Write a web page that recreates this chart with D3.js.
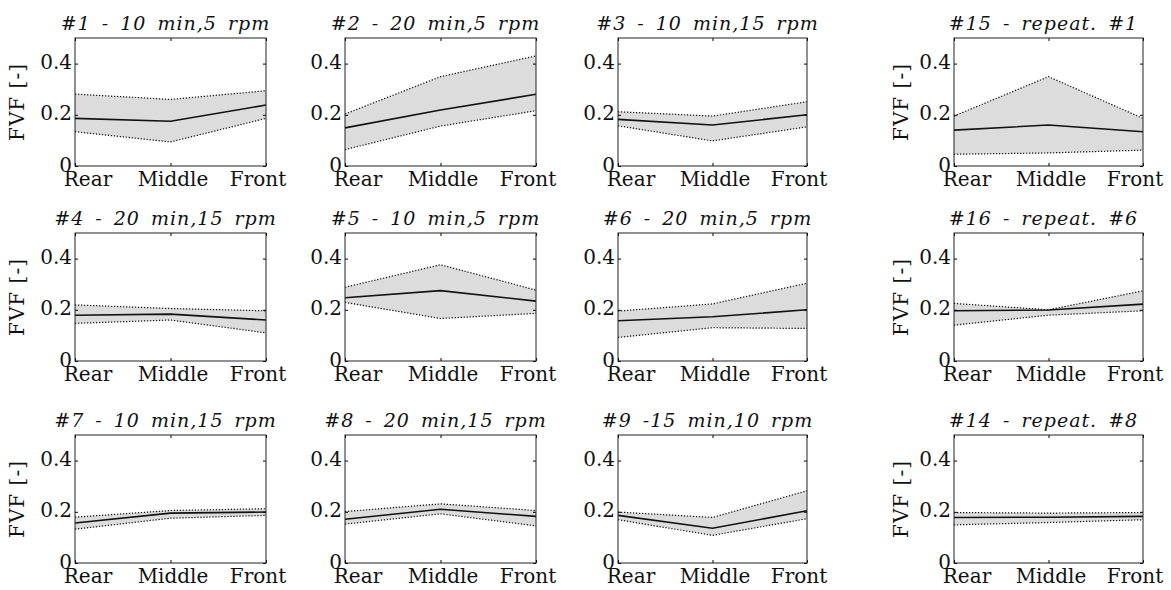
<!DOCTYPE html>
<html>
<head>
<meta charset="utf-8">
<script src="https://cdn.jsdelivr.net/npm/d3@7"></script>
<style>
    body { margin: 0; background: #fff; }
    svg text { font-family: "DejaVu Serif", "Liberation Serif", serif; fill: #111; }
</style>
</head>
<body>
<script>
/*global d3*/

// sample positions along the part
var positions = ["Rear", "Middle", "Front"];

// panel titles, row by row
var titles = [
    "#1 - 10 min,5 rpm", "#2 - 20 min,5 rpm", "#3 - 10 min,15 rpm", "#15 - repeat. #1",
    "#4 - 20 min,15 rpm", "#5 - 10 min,5 rpm", "#6 - 20 min,5 rpm", "#16 - repeat. #6",
    "#7 - 10 min,15 rpm", "#8 - 20 min,15 rpm", "#9 -15 min,10 rpm", "#14 - repeat. #8"
];

// mean FVF per panel (Rear, Middle, Front)
var meanValues = [
    [0.186, 0.175, 0.238], [0.149, 0.219, 0.280], [0.182, 0.160, 0.200], [0.140, 0.160, 0.134],
    [0.179, 0.183, 0.160], [0.247, 0.275, 0.234], [0.157, 0.173, 0.200], [0.196, 0.199, 0.222],
    [0.156, 0.195, 0.199], [0.171, 0.210, 0.182], [0.186, 0.136, 0.204], [0.178, 0.179, 0.182]
];

// upper bound of the band
var upperValues = [
    [0.281, 0.260, 0.294], [0.203, 0.349, 0.430], [0.212, 0.195, 0.251], [0.195, 0.349, 0.186],
    [0.219, 0.205, 0.196], [0.288, 0.376, 0.277], [0.195, 0.223, 0.304], [0.225, 0.200, 0.274],
    [0.179, 0.205, 0.212], [0.201, 0.231, 0.205], [0.199, 0.178, 0.282], [0.197, 0.195, 0.197]
];

// lower bound of the band
var lowerValues = [
    [0.134, 0.094, 0.186], [0.064, 0.156, 0.216], [0.157, 0.098, 0.153], [0.046, 0.051, 0.062],
    [0.147, 0.160, 0.110], [0.229, 0.166, 0.186], [0.092, 0.130, 0.127], [0.140, 0.179, 0.196],
    [0.132, 0.175, 0.186], [0.152, 0.192, 0.145], [0.169, 0.108, 0.173], [0.149, 0.158, 0.169]
];

var yTicks = [0, 0.2, 0.4];
var yTickLabels = ["0", "0.2", "0.4"];

(function () {
    "use strict";

    var serif = "DejaVu Serif, Liberation Serif, serif",
        colLeft = [75, 345, 618, 954],
        colWidth = [191, 191, 189, 189],
        rowTop = [38, 233, 435],
        plotHeight = 128,
        svg = d3.select("body").append("svg")
            .attr("width", 1171)
            .attr("height", 590);

    var y = d3.scaleLinear().domain([0, 0.5]).range([plotHeight, 0]);

    titles.forEach(function (title, i) {
        var row = Math.floor(i / 4),
            col = i % 4,
            w = colWidth[col],
            g = svg.append("g").attr("transform", "translate(" + colLeft[col] + "," + rowTop[row] + ")"),
            x = d3.scalePoint().domain(positions).range([0, w]),
            // tick labels sit a bit inside the box edges in the original
            xLabel = d3.scalePoint().domain(positions).range([13, w - 8]),
            rows = positions.map(function (p, k) {
                return {pos: p, mean: meanValues[i][k], hi: upperValues[i][k], lo: lowerValues[i][k]};
            });

        var area = d3.area()
            .x(function (d) { return x(d.pos); })
            .y0(function (d) { return y(d.lo); })
            .y1(function (d) { return y(d.hi); });

        var line = function (key) {
            return d3.line()
                .x(function (d) { return x(d.pos); })
                .y(function (d) { return y(d[key]); });
        };

        g.append("path")
            .attr("d", area(rows))
            .attr("fill", "#dcdcdc");

        ["hi", "lo"].forEach(function (key) {
            g.append("path")
                .attr("d", line(key)(rows))
                .attr("fill", "none")
                .attr("stroke", "#111")
                .attr("stroke-width", 1.2)
                .attr("stroke-dasharray", "1.3,1.7");
        });

        g.append("path")
            .attr("d", line("mean")(rows))
            .attr("fill", "none")
            .attr("stroke", "#111")
            .attr("stroke-width", 1.6);

        // inward ticks on all four sides
        g.append("g")
            .call(d3.axisLeft(y).tickValues(yTicks).tickSizeInner(-3).tickSizeOuter(0).tickPadding(3)
                .tickFormat(function (d, k) { return yTickLabels[k]; }))
            .call(function (a) {
                a.attr("font-family", serif).attr("font-size", 20);
                a.select(".domain").remove();
                a.selectAll("text").attr("fill", "#111").attr("dy", "0.25em");
            });
        g.append("g")
            .attr("transform", "translate(" + w + ",0)")
            .call(d3.axisRight(y).tickValues(yTicks).tickSizeInner(-3).tickSizeOuter(0).tickFormat(""))
            .call(function (a) { a.select(".domain").remove(); });
        g.append("g")
            .attr("transform", "translate(0," + plotHeight + ")")
            .call(d3.axisBottom(x).tickSizeInner(-3).tickSizeOuter(0).tickFormat(""))
            .call(function (a) { a.select(".domain").remove(); });
        g.append("g")
            .call(d3.axisTop(x).tickSizeInner(-3).tickSizeOuter(0).tickFormat(""))
            .call(function (a) { a.select(".domain").remove(); });

        g.append("rect")
            .attr("width", w)
            .attr("height", plotHeight)
            .attr("fill", "none")
            .attr("stroke", "#222")
            .attr("stroke-width", 1);

        g.selectAll("text.xlab")
            .data(positions)
            .enter().append("text")
            .attr("class", "xlab")
            .attr("x", function (d) { return xLabel(d); })
            .attr("y", plotHeight + 20)
            .attr("text-anchor", "middle")
            .attr("font-size", 20)
            .text(function (d) { return d; });

        g.append("text")
            .attr("x", w / 2 - 5)
            .attr("y", -8)
            .attr("text-anchor", "middle")
            .attr("font-size", 19)
            .attr("font-style", "italic")
            .attr("letter-spacing", 1)
            .attr("word-spacing", 4)
            .attr("fill", "#333")
            .text(title);

        if (col === 0 || col === 3) {
            g.append("text")
                .attr("transform", "translate(" + (col === 0 ? -51 : -46) + "," + (plotHeight / 2) + ") rotate(-90)")
                .attr("text-anchor", "middle")
                .attr("font-size", 20)
                .attr("letter-spacing", 1)
                .text("FVF [-]");
        }
    });
}());
</script>
</body>
</html>
